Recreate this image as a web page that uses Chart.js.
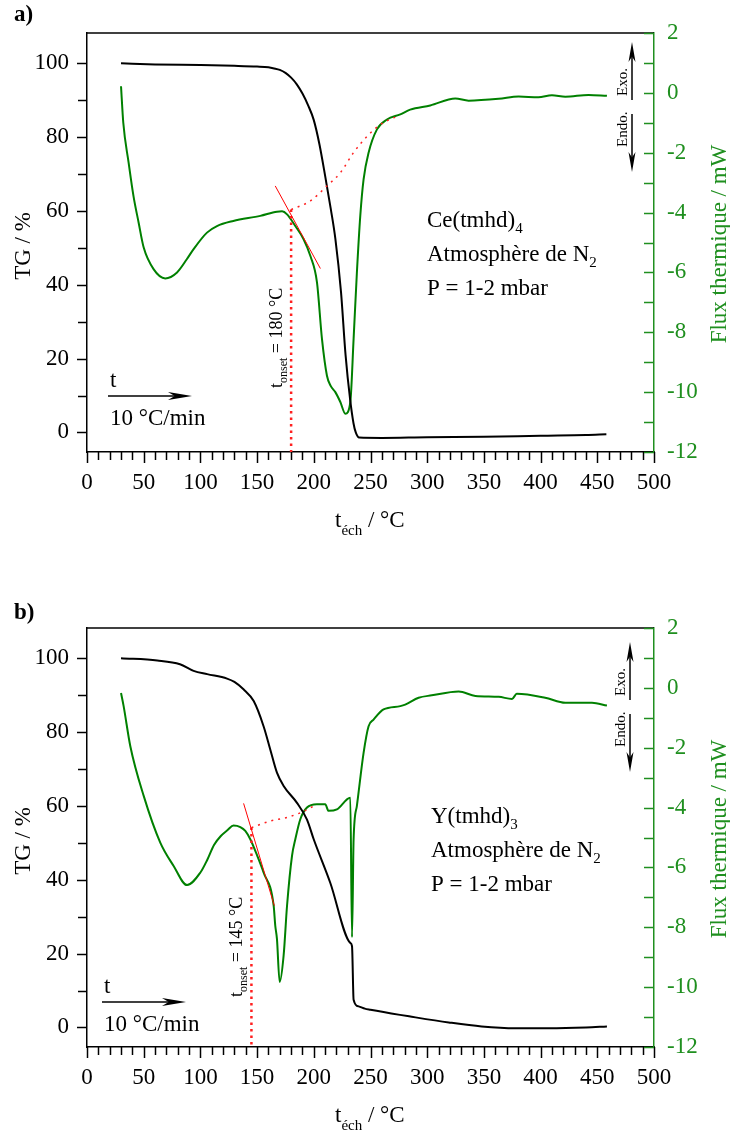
<!DOCTYPE html>
<html>
<head>
<meta charset="utf-8">
<script src="https://cdn.jsdelivr.net/npm/chart.js@4.4.1/dist/chart.umd.min.js"></script>
<style>
  body { margin: 0; background: #fff; width: 730px; height: 1133px; overflow: hidden; position: relative; }
  canvas { position: absolute; left: 0; }
  #chartA { top: 0; }
  #chartB { top: 595px; }
</style>
</head>
<body>
<canvas id="chartA" width="730" height="566"></canvas>
<canvas id="chartB" width="730" height="566"></canvas>
<script>
// ---- data, chart a : Ce(tmhd)4 ----
const tempTgA = [30, 60, 100, 130, 150, 160, 165, 170, 175, 180, 185, 190, 195, 200, 205, 210, 215, 219, 224, 228, 232, 235, 237, 240, 260, 300, 350, 400, 440, 458];
const tgA = [100, 99.7, 99.5, 99.3, 99.1, 98.9, 98.6, 98.2, 97.4, 96.1, 94.3, 91.8, 88.6, 84.6, 78, 69.5, 60.5, 52.5, 38, 21, 9, 2.5, 0, -1.4, -1.5, -1.3, -1.2, -0.9, -0.7, -0.5];
const tempFluxA = [30, 32, 36.7, 41, 45.5, 50, 58.7, 69, 79.4, 88, 94, 105.8, 114.6, 129, 152.8, 167.5, 172, 176.4, 183.7, 191, 197, 202.8, 207.2, 211.6, 215, 219, 223.4, 227.8, 232.2, 235.1, 238, 241, 243.9, 248.3, 255.7, 264.5, 276.3, 285, 302.7, 324.8, 336.5, 363, 380.6, 398, 410, 421.8, 442.3, 458.5];
const fluxA = [0.22, -1.0, -2.33, -3.45, -4.33, -5.17, -5.89, -6.2, -6.0, -5.56, -5.22, -4.67, -4.45, -4.28, -4.11, -3.97, -3.96, -4.06, -4.45, -4.89, -5.45, -6.33, -8.22, -9.45, -9.8, -10.0, -10.33, -10.72, -10.33, -8.22, -6.0, -4.1, -2.89, -2.0, -1.22, -0.89, -0.72, -0.56, -0.42, -0.19, -0.26, -0.2, -0.12, -0.15, -0.08, -0.13, -0.07, -0.1];
const tangentTempA = [166, 205.8];
const tangentA = [-3.11, -5.87];
const baseTempA = [180, 197, 211.6, 223.4, 235, 247, 258.6, 273.4];
const baseA = [-3.9, -3.61, -3.11, -2.67, -2.0, -1.45, -1.06, -0.78];
const onsetA = 180;

// ---- data, chart b : Y(tmhd)3 ----
const tempTgB = [30, 62, 82, 94, 106, 123.5, 130, 138, 147, 155.7, 161.6, 167.5, 173.4, 185, 194, 200, 214.5, 232.2, 233.7, 235.1, 239.5, 245, 250, 276, 284, 319, 348, 378, 407, 440, 458.5];
const tgB = [100, 99.4, 98.4, 96.6, 95.7, 94.5, 93.6, 91.6, 88.4, 81.6, 75.3, 69, 65.4, 60.9, 56.3, 50.9, 39.2, 22.9, 22, 7.5, 5.7, 5.1, 4.8, 3.4, 3.0, 1.36, 0.27, -0.2, -0.2, 0.0, 0.27];
const tempFluxB = [30, 32.3, 38.2, 50, 64.6, 76.4, 88.2, 100, 106, 112, 118, 124, 129.2, 135.2, 139.6, 144, 150, 155.7, 164.6, 166, 167.5, 169.9, 173.4, 176.4, 180.8, 183.7, 188.1, 194, 202.8, 210.1, 213, 220.4, 232.2, 233.7, 235.1, 238, 243.9, 248.3, 252.7, 261.5, 276.3, 280.6, 292.4, 304, 327.8, 342.5, 363, 374.8, 379, 404, 421.8, 445.3, 458.5];
const fluxB = [-0.17, -0.61, -1.95, -3.61, -5.17, -5.95, -6.59, -6.17, -5.75, -5.25, -4.95, -4.75, -4.6, -4.65, -4.78, -5.06, -5.6, -6.17, -7.28, -7.94, -8.39, -9.83, -8.94, -7.28, -5.61, -5.06, -4.39, -4.0, -3.89, -3.89, -4.11, -4.06, -3.67, -8.33, -5.06, -3.94, -2.17, -1.28, -1.06, -0.72, -0.61, -0.56, -0.33, -0.25, -0.12, -0.27, -0.3, -0.37, -0.2, -0.33, -0.5, -0.5, -0.59];
const tangentTempB = [138.1, 165.2];
const tangentB = [-3.86, -7.28];
const baseTempB = [145, 161.6, 176.4, 189.6, 199.8];
const baseB = [-4.67, -4.45, -4.33, -4.15, -3.95];
const onsetB = 145;

// axis ranges / tick labels
const xMin = 0, xMax = 500;
const tgMin = -5.3, tgMax = 108.2;
const fluxMin = -12, fluxMax = 2;
const xLabels = [0, 50, 100, 150, 200, 250, 300, 350, 400, 450, 500];
const tgLabels = [0, 20, 40, 60, 80, 100];
const fluxLabels = [-12, -10, -8, -6, -4, -2, 0, 2];

const SERIF = '"Liberation Serif", "Times New Roman", serif';
const GREEN = '#008000';
const AXIS_GREEN = '#1f8f1f';

function pts(xs, ys) {
  return xs.map((x, i) => ({ x: x, y: ys[i] }));
}

function runs(ctx, x, y, parts) {
  let cx = x;
  parts.forEach(p => {
    ctx.font = (p[2] ? 'bold ' : '') + p[1] + 'px ' + SERIF;
    ctx.fillText(p[0], cx, y + (p[3] || 0));
    cx += ctx.measureText(p[0]).width;
  });
}

function arrow(ctx, x1, y1, x2, y2, len, half) {
  const d = Math.hypot(x2 - x1, y2 - y1);
  const ux = (x2 - x1) / d, uy = (y2 - y1) / d;
  const nx = -uy, ny = ux;
  ctx.beginPath();
  ctx.moveTo(x1, y1);
  ctx.lineTo(x2 - ux * len * 0.7, y2 - uy * len * 0.7);
  ctx.stroke();
  ctx.beginPath();
  ctx.moveTo(x2, y2);
  ctx.lineTo(x2 - ux * len + nx * half, y2 - uy * len + ny * half);
  ctx.lineTo(x2 - ux * len * 0.72, y2 - uy * len * 0.72);
  ctx.lineTo(x2 - ux * len - nx * half, y2 - uy * len - ny * half);
  ctx.closePath();
  ctx.fill();
}

function decor(cfg) {
  return {
    id: 'decor',
    afterDraw(chart) {
      const ctx = chart.ctx;
      const a = chart.chartArea;
      const sx = chart.scales.x, sy = chart.scales.y, sy2 = chart.scales.y2;
      ctx.save();
      ctx.lineWidth = 1.5;
      ctx.strokeStyle = '#000';
      ctx.beginPath(); ctx.moveTo(a.left, a.top); ctx.lineTo(a.right, a.top); ctx.stroke();
      // minor + major ticks
      for (let v = xMin; v <= xMax; v += 10) {
        const px = Math.round(sx.getPixelForValue(v)) + 0.5;
        ctx.beginPath(); ctx.moveTo(px, a.bottom); ctx.lineTo(px, a.bottom + (v % 50 === 0 ? 11 : 8)); ctx.stroke();
      }
      for (let v = 0; v <= 100; v += 10) {
        const py = Math.round(sy.getPixelForValue(v)) + 0.5;
        ctx.beginPath(); ctx.moveTo(a.left, py); ctx.lineTo(a.left - (v % 20 === 0 ? 10 : 9), py); ctx.stroke();
      }
      ctx.strokeStyle = AXIS_GREEN;
      for (let v = fluxMin; v <= fluxMax; v += 1) {
        const py = Math.round(sy2.getPixelForValue(v)) + 0.5;
        ctx.beginPath(); ctx.moveTo(a.right, py); ctx.lineTo(a.right - 10, py); ctx.stroke();
      }

      ctx.fillStyle = '#000';
      ctx.textBaseline = 'alphabetic';
      ctx.textAlign = 'left';
      runs(ctx, 14, cfg.tagY, [[cfg.tag, 23, true]]);

      // sample text
      runs(ctx, cfg.textX, cfg.textY, [[cfg.formula, 23], [cfg.sub, 15, false, 6]]);
      runs(ctx, cfg.textX, cfg.textY + 34, [['Atmosphère de N', 23], ['2', 15, false, 6]]);
      runs(ctx, cfg.textX, cfg.textY + 68, [['P = 1-2 mbar', 23]]);

      // heating rate
      runs(ctx, cfg.rateX + 2, cfg.rateY - 9, [['t', 23]]);
      ctx.strokeStyle = '#000'; ctx.lineWidth = 1.5;
      arrow(ctx, cfg.rateX, cfg.rateY, cfg.rateX + 84, cfg.rateY, 24, 4);
      runs(ctx, cfg.rateX + 2, cfg.rateY + 29, [['10 °C/min', 23]]);

      // x title
      runs(ctx, 335, 527, [['t', 23], ['éch', 15, false, 8], [' / °C', 23]]);

      // exo / endo
      arrow(ctx, cfg.exoX, cfg.exoY + 58, cfg.exoX, cfg.exoY, 20, 3.5);
      arrow(ctx, cfg.exoX, cfg.exoY + 72, cfg.exoX, cfg.exoY + 130, 20, 3.5);
      ctx.save();
      ctx.translate(cfg.exoX - 5, cfg.exoY + 54);
      ctx.rotate(-Math.PI / 2);
      runs(ctx, 0, 0, [['Exo.', 15]]);
      ctx.restore();
      ctx.save();
      ctx.translate(cfg.exoX - 5, cfg.exoY + 105);
      ctx.rotate(-Math.PI / 2);
      runs(ctx, 0, 0, [['Endo.', 15]]);
      ctx.restore();

      // onset label
      ctx.save();
      ctx.translate(sx.getPixelForValue(cfg.onset) - 9, cfg.onsetY);
      ctx.rotate(-Math.PI / 2);
      runs(ctx, 0, 0, [['t', 18], ['onset', 12, false, 5], [' = ' + cfg.onset + ' °C', 18]]);
      ctx.restore();

      // y titles
      ctx.save();
      ctx.translate(30, 246);
      ctx.rotate(-Math.PI / 2);
      ctx.textAlign = 'center';
      ctx.font = '23px ' + SERIF;
      ctx.fillText('TG / %', 0, 0);
      ctx.restore();
      ctx.save();
      ctx.translate(726, 244);
      ctx.rotate(-Math.PI / 2);
      ctx.textAlign = 'center';
      ctx.fillStyle = AXIS_GREEN;
      ctx.font = '23px ' + SERIF;
      ctx.fillText('Flux thermique / mW', 0, 0);
      ctx.restore();
      ctx.restore();
    }
  };
}

function fixedTicks(list) {
  return (s) => { s.ticks = list.map(v => ({ value: v })); };
}

function makeChart(id, d, cfg) {
  const tickFont = { family: SERIF, size: 23 };
  return new Chart(document.getElementById(id), {
    type: 'line',
    data: {
      datasets: [
        {
          label: 'tangente',
          data: pts(d.tanX, d.tanY),
          yAxisID: 'y2',
          borderColor: '#ff0000',
          borderWidth: 1,
          tension: 0,
          order: 0,
        },
        {
          label: 'ligne de base',
          data: pts(d.baseX, d.baseY),
          yAxisID: 'y2',
          borderColor: '#ff2020',
          borderWidth: 1.5,
          borderDash: [2, 5],
          cubicInterpolationMode: 'monotone',
          order: 0,
        },
        {
          label: 'onset',
          data: pts([d.onset, d.onset], [d.baseY[0], fluxMin]),
          yAxisID: 'y2',
          borderColor: '#ff2020',
          borderWidth: 2.5,
          borderDash: [2.5, 4],
          order: 0,
        },
        {
          label: 'TG',
          data: pts(d.tgX, d.tgY),
          yAxisID: 'y',
          borderColor: '#000',
          borderWidth: 2,
          cubicInterpolationMode: 'monotone',
          order: 1,
        },
        {
          label: 'Flux thermique',
          data: pts(d.fluxX, d.fluxY),
          yAxisID: 'y2',
          borderColor: GREEN,
          borderWidth: 2,
          cubicInterpolationMode: 'monotone',
          order: 2,
        },
      ],
    },
    options: {
      responsive: false,
      animation: false,
      devicePixelRatio: 1,
      layout: { padding: { top: 33, left: 0, right: 0, bottom: 0 } },
      elements: { point: { radius: 0 } },
      plugins: { legend: { display: false }, tooltip: { enabled: false } },
      scales: {
        x: {
          type: 'linear',
          min: xMin,
          max: xMax,
          bounds: 'data',
          grid: { drawOnChartArea: false, drawTicks: false },
          border: { color: '#000', width: 1.5 },
          ticks: { autoSkip: false, maxRotation: 0, padding: 17, color: '#000', font: tickFont },
          afterBuildTicks: fixedTicks(xLabels),
          afterFit: (s) => { s.height = 114; },
        },
        y: {
          position: 'left',
          min: tgMin,
          max: tgMax,
          bounds: 'data',
          grid: { drawOnChartArea: false, drawTicks: false },
          border: { color: '#000', width: 1.5 },
          ticks: { autoSkip: false, padding: 18, color: '#000', font: tickFont },
          afterBuildTicks: fixedTicks(tgLabels),
          afterFit: (s) => { s.width = 87; },
        },
        y2: {
          position: 'right',
          min: fluxMin,
          max: fluxMax,
          bounds: 'data',
          grid: { drawOnChartArea: false, drawTicks: false },
          border: { color: AXIS_GREEN, width: 1.5 },
          ticks: { autoSkip: false, padding: 13, color: AXIS_GREEN, font: tickFont },
          afterBuildTicks: fixedTicks(fluxLabels),
          afterFit: (s) => { s.width = 76; },
        },
      },
    },
    plugins: [decor(cfg)],
  });
}

makeChart('chartA', {
  tgX: tempTgA, tgY: tgA, fluxX: tempFluxA, fluxY: fluxA,
  tanX: tangentTempA, tanY: tangentA, baseX: baseTempA, baseY: baseA, onset: onsetA,
}, {
  tag: 'a)', tagY: 21, formula: 'Ce(tmhd)', sub: '4', textX: 427, textY: 227,
  rateX: 108, rateY: 396, exoX: 632, exoY: 42, onset: onsetA, onsetY: 388,
});

makeChart('chartB', {
  tgX: tempTgB, tgY: tgB, fluxX: tempFluxB, fluxY: fluxB,
  tanX: tangentTempB, tanY: tangentB, baseX: baseTempB, baseY: baseB, onset: onsetB,
}, {
  tag: 'b)', tagY: 24, formula: 'Y(tmhd)', sub: '3', textX: 431, textY: 228,
  rateX: 102, rateY: 407, exoX: 630, exoY: 47, onset: onsetB, onsetY: 402,
});
</script>
</body>
</html>
